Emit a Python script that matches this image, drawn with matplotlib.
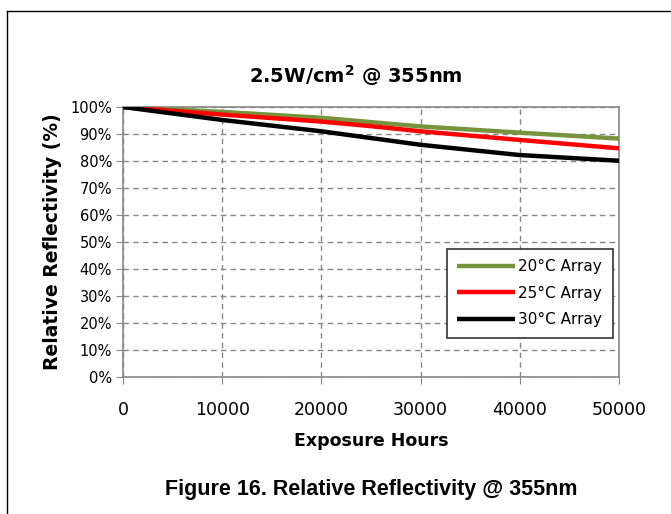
import numpy as np
import matplotlib.pyplot as plt
from matplotlib.lines import Line2D
from matplotlib.ticker import MultipleLocator, FuncFormatter

# values (fraction of initial reflectivity, %)
hours = [0, 10000, 20000, 25000, 30000, 40000, 50000]
refl_20c = [100, 98.2, 96.0, 94.4, 92.8, 90.5, 88.3]
refl_25c = [100, 97.2, 94.6, 92.9, 91.0, 87.8, 84.7]
refl_30c = [100, 95.2, 91.0, 88.5, 86.0, 82.2, 80.1]
labels = ['20\u00b0C Array', '25\u00b0C Array', '30\u00b0C Array']
colors = ['#77933C', '#FF0000', '#000000']

W, H = 671, 514
fig = plt.figure(figsize=(W / 100, H / 100), dpi=100)
ax = fig.add_axes([123 / W, 1 - 377 / H, (619 - 123) / W, (377 - 107) / H])

for y, lab, c in zip([refl_20c, refl_25c, refl_30c], labels, colors):
    ax.plot(hours, y, color=c, lw=3.2, label=lab, solid_capstyle='butt', zorder=3)

ax.set_xlim(0, 50000)
ax.set_ylim(0, 100)
ax.xaxis.set_major_locator(MultipleLocator(10000))
ax.yaxis.set_major_locator(MultipleLocator(10))
ax.yaxis.set_major_formatter(FuncFormatter(lambda v, p: f'{v:.0f}%'))
ax.grid(True, ls=(0, (4, 3)), color='#888888', lw=1)
for s in ax.spines.values():
    s.set_color('#888888')
    s.set_linewidth(1.2)
ax.tick_params(axis='x', labelsize=12.5, colors='#888888', labelcolor='black',
               length=5, pad=12)
ax.tick_params(axis='y', labelsize=10.5, colors='#888888', labelcolor='black',
               length=5, pad=3)

ax.set_xlabel('Exposure Hours', fontsize=12.5, fontweight='bold', labelpad=10)
ax.set_ylabel('Relative Reflectivity (%)', fontsize=13.5, fontweight='bold', labelpad=6)

leg = ax.legend(loc='lower right', bbox_to_anchor=(613 / W, 1 - 338 / H),
                bbox_transform=fig.transFigure, fontsize=11, fancybox=False,
                edgecolor='#333333', framealpha=1, handlelength=3.8,
                handletextpad=0.2, borderpad=0.7, labelspacing=0.75,
                borderaxespad=0)
leg.get_frame().set_linewidth(1.2)

fig.text(356 / W, 1 - 76 / H, '2.5W/cm$^\\mathbf{2}$ @ 355nm', ha='center',
         va='center', fontsize=14, fontweight='bold')
fig.text(371 / W, 1 - 490 / H, 'Figure 16. Relative Reflectivity @ 355nm',
         ha='center', va='center', fontsize=15.5, fontweight='bold',
         family='Liberation Sans')

# outer frame (top and left edges only visible)
fig.add_artist(Line2D([7 / W, 1], [1 - 11 / H, 1 - 11 / H], color='black', lw=1))
fig.add_artist(Line2D([7 / W, 7 / W], [0, 1 - 11 / H], color='black', lw=1))

fig.savefig('out.png', dpi=100)
